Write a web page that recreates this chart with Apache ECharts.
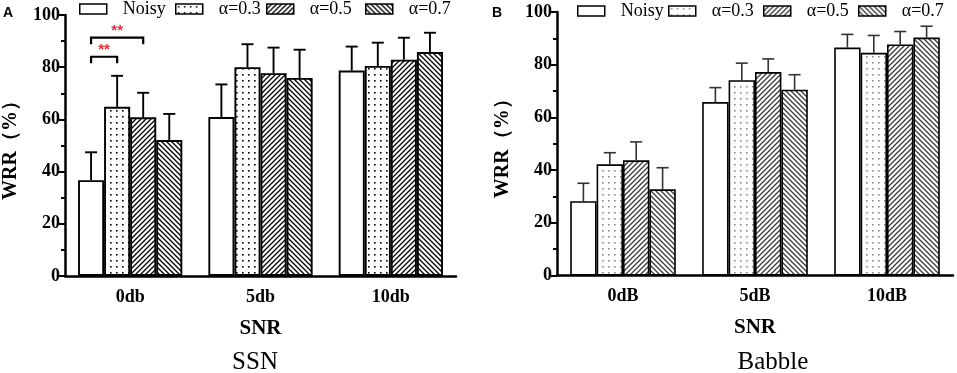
<!DOCTYPE html>
<html>
<head>
<meta charset="utf-8">
<script src="https://cdn.jsdelivr.net/npm/echarts@6/dist/echarts.min.js"></script>
<style>
  html, body { margin: 0; padding: 0; background: #fff; }
  #chart { width: 957px; height: 373px; }
</style>
</head>
<body>
<div id="chart"></div>
<script>
// categories / series
const categoriesSSN = ['0db', '5db', '10db']
const categoriesBabble = ['0dB', '5dB', '10dB']
const seriesNames = ['Noisy', 'α=0.3', 'α=0.5', 'α=0.7']
const yTicks = [0, 20, 40, 60, 80, 100]

// panel A - SSN (mean, sd)
const ssnNoisy = [36.7, 60.9, 78.7]
const ssnA03 = [64.8, 80.0, 80.5]
const ssnA05 = [60.8, 77.7, 82.9]
const ssnA07 = [52.1, 75.9, 85.8]
const ssnNoisyErr = [10.7, 12.5, 9.2]
const ssnA03Err = [11.9, 8.8, 8.9]
const ssnA05Err = [9.4, 9.8, 8.4]
const ssnA07Err = [10.0, 10.8, 7.4]

// panel B - Babble (mean, sd)
const babNoisy = [28.2, 65.8, 86.5]
const babA03 = [42.2, 74.1, 84.5]
const babA05 = [43.7, 77.2, 87.7]
const babA07 = [32.7, 70.5, 90.3]
const babNoisyErr = [6.8, 5.5, 5.0]
const babA03Err = [4.4, 6.5, 6.6]
const babA05Err = [7.0, 5.0, 4.9]
const babA07Err = [8.2, 5.7, 4.3]

// significance brackets in panel A: category, from series, to series, line y, leg end y
const ssnBrackets = [[0, 0, 1, 84.0, 81.5], [0, 0, 2, 91.3, 88.8]]
const ssnBracketLabels = ['**', '**']

const SERIF = 'Liberation Serif'
const SANS = 'Liberation Sans'

// fill patterns
function makeTile(size, draw) {
  const c = document.createElement('canvas')
  c.width = size
  c.height = size
  const ctx = c.getContext('2d')
  ctx.fillStyle = '#fff'
  ctx.fillRect(0, 0, size, size)
  draw(ctx, size)
  return { image: c, repeat: 'repeat' }
}
function dots(color) {
  return makeTile(6, ctx => {
    ctx.fillStyle = color
    ctx.fillRect(2, 2, 1.6, 1.6)
  })
}
function hatch(color, dir) {
  return makeTile(5, (ctx, s) => {
    ctx.strokeStyle = color
    ctx.lineWidth = 1.3
    ctx.beginPath()
    if (dir > 0) {
      ctx.moveTo(-1, s + 1); ctx.lineTo(s + 1, -1)
      ctx.moveTo(-1, 1); ctx.lineTo(1, -1)
      ctx.moveTo(s - 1, s + 1); ctx.lineTo(s + 1, s - 1)
    } else {
      ctx.moveTo(-1, -1); ctx.lineTo(s + 1, s + 1)
      ctx.moveTo(s - 1, -1); ctx.lineTo(s + 1, 1)
      ctx.moveTo(-1, s - 1); ctx.lineTo(1, s + 1)
    }
    ctx.stroke()
  })
}

const fillsA = ['#fff', dots('#000'), hatch('#000', 1), hatch('#000', -1)]
const fillsB = ['#fff', dots('#8a8a8a'), hatch('#3a3a3a', 1), hatch('#3a3a3a', -1)]

const GROUP = 0.2 // bar width as share of band (barCategoryGap 20%, 4 bars, no gap)

function errorRender(color, width) {
  return function (params, api) {
    const cat = api.value(0), mean = api.value(1), err = api.value(2), k = api.value(3)
    const band = api.size([1, 0])[0]
    const base = api.coord([cat, mean])
    const top = api.coord([cat, mean + err])
    const x = base[0] + (k - 1.5) * band * GROUP
    const st = { stroke: color, lineWidth: width }
    return {
      type: 'group',
      children: [
        { type: 'line', shape: { x1: x, y1: base[1], x2: x, y2: top[1] }, style: st },
        { type: 'line', shape: { x1: x - 6, y1: top[1], x2: x + 6, y2: top[1] }, style: st }
      ]
    }
  }
}

function bracketRender(params, api) {
  const cat = api.value(0), a = api.value(1), b = api.value(2)
  const band = api.size([1, 0])[0]
  const p = api.coord([cat, api.value(3)])
  const leg = api.coord([cat, api.value(4)])
  const xa = p[0] + (a - 1.5) * band * GROUP
  const xb = p[0] + (b - 1.5) * band * GROUP
  return {
    type: 'group',
    children: [
      {
        type: 'polyline',
        shape: { points: [[xa, leg[1]], [xa, p[1]], [xb, p[1]], [xb, leg[1]]] },
        style: { stroke: '#000', lineWidth: 2.2, fill: null }
      },
      {
        type: 'text',
        style: {
          text: ssnBracketLabels[params.dataIndex], x: (xa + xb) / 2, y: p[1] + 1,
          align: 'center', verticalAlign: 'bottom', fill: '#ee2a35',
          fontFamily: SANS, fontWeight: 'bold', fontSize: 15
        }
      }
    ]
  }
}

function errData(means, errs) {
  const out = []
  means.forEach((arr, k) => arr.forEach((m, i) => out.push([i, m, errs[k][i], k])))
  return out
}

function xAxis(cats, gridIndex) {
  return {
    type: 'category', gridIndex: gridIndex, data: cats,
    name: 'SNR', nameLocation: 'middle', nameGap: 42,
    nameTextStyle: { fontFamily: SERIF, fontWeight: 'bold', fontSize: 21, color: '#000' },
    axisLine: { lineStyle: { color: '#000', width: 2.5 } },
    axisTick: { alignWithLabel: true, length: 6, lineStyle: { color: '#000', width: 2 } },
    axisLabel: { fontFamily: SERIF, fontWeight: 'bold', fontSize: 18, color: '#000', margin: 12 },
    splitLine: { show: false }
  }
}
function yAxis(gridIndex) {
  return {
    type: 'value', gridIndex: gridIndex,
    min: yTicks[0], max: yTicks[yTicks.length - 1], interval: yTicks[1] - yTicks[0],
    name: 'WRR（%）', nameLocation: 'middle', nameGap: 44,
    nameTextStyle: { fontFamily: SERIF, fontWeight: 'bold', fontSize: 20, color: '#000' },
    axisLine: { show: true, lineStyle: { color: '#000', width: 2.5 } },
    axisTick: { show: true, length: 6, lineStyle: { color: '#000', width: 2 } },
    minorTick: { show: true, splitNumber: 2, length: 4, lineStyle: { color: '#000', width: 2 } },
    axisLabel: { fontFamily: SERIF, fontWeight: 'bold', fontSize: 18, color: '#000', margin: 5 },
    splitLine: { show: false }
  }
}

function bars(means, fills, idx, bw) {
  return means.map((d, k) => ({
    type: 'bar', name: seriesNames[k], xAxisIndex: idx, yAxisIndex: idx, data: d,
    barGap: 0, barCategoryGap: '20%',
    itemStyle: { color: fills[k], borderColor: '#000', borderWidth: bw }
  }))
}

function legends(fills, lefts, top) {
  return seriesNames.map((n, k) => ({
    data: [{ name: n, icon: 'rect', itemStyle: { color: fills[k], borderColor: '#000', borderWidth: 1.5 } }],
    left: lefts[k], top: top, itemWidth: 27, itemHeight: 10, selectedMode: false, padding: 0,
    textStyle: { fontFamily: SERIF, fontSize: 18, color: '#000', padding: [0, 0, 0, 11] }
  }))
}

const ssnMeans = [ssnNoisy, ssnA03, ssnA05, ssnA07]
const ssnErrs = [ssnNoisyErr, ssnA03Err, ssnA05Err, ssnA07Err]
const babMeans = [babNoisy, babA03, babA05, babA07]
const babErrs = [babNoisyErr, babA03Err, babA05Err, babA07Err]

const chart = echarts.init(document.getElementById('chart'))
chart.setOption({
  animation: false,
  backgroundColor: '#fff',
  grid: [
    { left: 64, right: 501, top: 15, bottom: 97 },
    { left: 557, right: 4, top: 12, bottom: 97.5 }
  ],
  xAxis: [xAxis(categoriesSSN, 0), xAxis(categoriesBabble, 1)],
  yAxis: [yAxis(0), yAxis(1)],
  legend: legends(fillsA, [79, 175, 266, 365], 0).concat(legends(fillsB, [577, 668, 763, 858], 2)),
  graphic: [
    { type: 'text', left: 3, top: 6, style: { text: 'A', fontFamily: SANS, fontWeight: 'bold', fontSize: 14, fill: '#000' } },
    { type: 'text', left: 492, top: 6, style: { text: 'B', fontFamily: SANS, fontWeight: 'bold', fontSize: 14, fill: '#000' } },
    { type: 'text', x: 255, y: 362, style: { text: 'SSN', fontFamily: SERIF, fontSize: 25, fill: '#000', align: 'center', verticalAlign: 'middle' } },
    { type: 'text', x: 773, y: 362, style: { text: 'Babble', fontFamily: SERIF, fontSize: 25, fill: '#000', align: 'center', verticalAlign: 'middle' } }
  ],
  series: bars(ssnMeans, fillsA, 0, 1.9).concat(bars(babMeans, fillsB, 1, 1.6), [
    {
      type: 'custom', name: 'errA', xAxisIndex: 0, yAxisIndex: 0, clip: false, z: 3,
      renderItem: errorRender('#000', 1.9), data: errData(ssnMeans, ssnErrs), encode: { x: 0, y: 1 }
    },
    {
      type: 'custom', name: 'errB', xAxisIndex: 1, yAxisIndex: 1, clip: false, z: 3,
      renderItem: errorRender('#333', 1.6), data: errData(babMeans, babErrs), encode: { x: 0, y: 1 }
    },
    {
      type: 'custom', name: 'sig', xAxisIndex: 0, yAxisIndex: 0, clip: false, z: 4,
      renderItem: bracketRender, data: ssnBrackets, encode: { x: 0, y: 3 }
    }
  ])
})
</script>
</body>
</html>
